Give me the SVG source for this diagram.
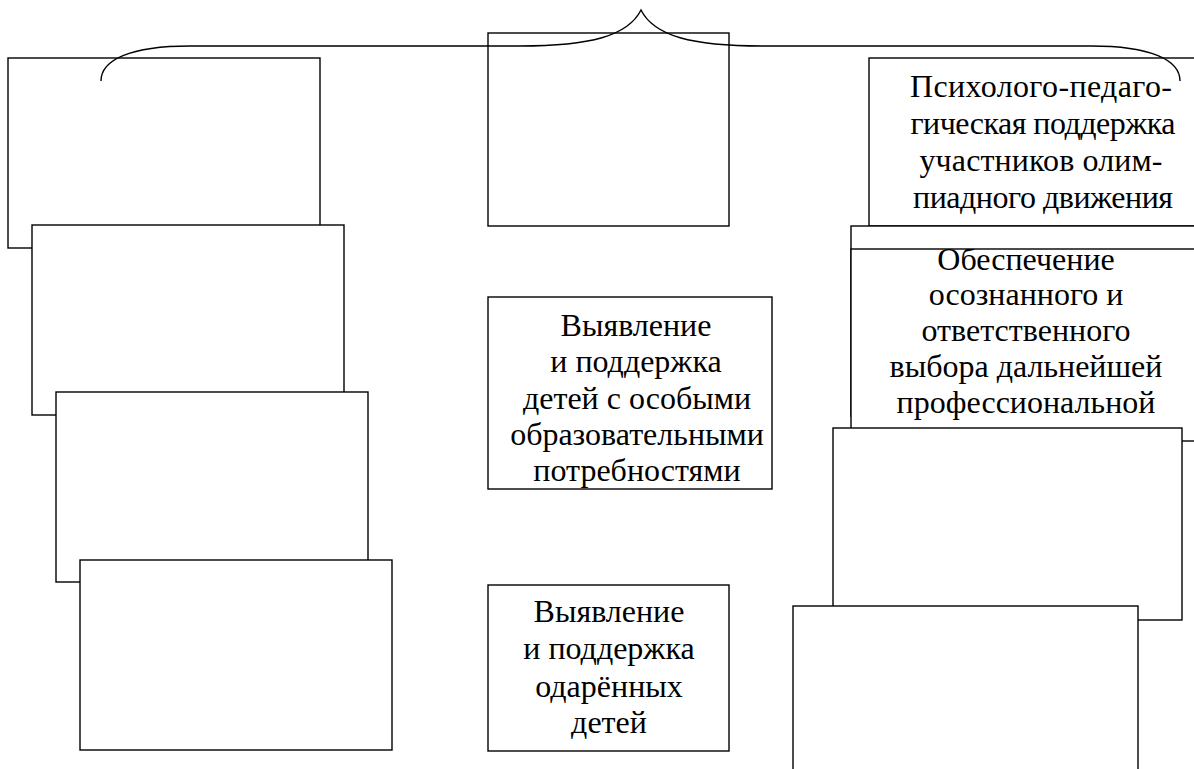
<svg xmlns="http://www.w3.org/2000/svg" width="1194" height="769" viewBox="0 0 1194 769">
<style>
.box{fill:#fff;stroke:#000;stroke-width:1.4}
.t{font-family:"Liberation Serif","Times New Roman",serif;font-size:32px;fill:#000;text-anchor:middle}
.brace{fill:none;stroke:#000;stroke-width:1.4}
</style>
<defs>
<clipPath id="clipR3"><rect x="851" y="249" width="350" height="192"/></clipPath>
</defs>
<rect width="1194" height="769" fill="#fff"/>
<g id="L1"><rect class="box" x="8" y="58" width="312" height="190"/></g>
<g id="L2"><rect class="box" x="32" y="225" width="312" height="190"/></g>
<g id="L3"><rect class="box" x="56" y="392" width="312" height="190"/></g>
<g id="L4"><rect class="box" x="80" y="560" width="312" height="190"/></g>
<g id="C1"><rect class="box" x="488" y="33" width="241" height="193"/></g>
<g id="C2"><rect class="box" x="488" y="297" width="284" height="192"/>
<text class="t"><tspan x="636" y="336">Выявление</tspan><tspan x="636" y="372">и поддержка</tspan><tspan x="637" y="409">детей с особыми</tspan><tspan x="637" y="445">образовательными</tspan><tspan x="637" y="481">потребностями</tspan></text></g>
<g id="C3"><rect class="box" x="488" y="585" width="241" height="166"/>
<text class="t"><tspan x="609" y="622">Выявление</tspan><tspan x="609" y="659">и поддержка</tspan><tspan x="609" y="697">одарённых</tspan><tspan x="609" y="733">детей</tspan></text></g>
<g id="R1"><rect class="box" x="869" y="58" width="330" height="168"/>
<text class="t"><tspan x="1041" y="97" textLength="262" lengthAdjust="spacing">Психолого-педаго-</tspan><tspan x="1043" y="134" textLength="265" lengthAdjust="spacing">гическая поддержка</tspan><tspan x="1041" y="171" textLength="243" lengthAdjust="spacing">участников олим-</tspan><tspan x="1043" y="208" textLength="260" lengthAdjust="spacing">пиадного движения</tspan></text></g>
<g id="R2"><rect class="box" x="851" y="226" width="350" height="190"/></g>
<g id="R3"><rect class="box" x="851" y="249" width="350" height="192"/>
<text class="t" clip-path="url(#clipR3)"><tspan x="1026" y="270">Обеспечение</tspan><tspan x="1026" y="305">осознанного и</tspan><tspan x="1026" y="341">ответственного</tspan><tspan x="1026" y="377">выбора дальнейшей</tspan><tspan x="1026" y="413">профессиональной</tspan></text></g>
<g id="R4"><rect class="box" x="833" y="428" width="349" height="192"/></g>
<g id="R5"><rect class="box" x="793" y="606" width="345" height="180"/></g>
<g id="connectors">
<path class="brace" d="M101,81 C101,60 130,46 190,46 L520,46 C590,46 628,36 641,10 C654,36 692,46 762,46 L1091,46 C1151,46 1180,60 1180,81"/>
</g>
</svg>
